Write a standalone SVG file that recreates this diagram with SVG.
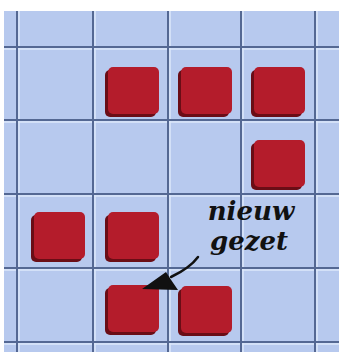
<svg xmlns="http://www.w3.org/2000/svg" width="342" height="352" viewBox="0 0 342 352">
<defs>
<style>
.bg{fill:#b7c9ee}
.gd{stroke:#546893;stroke-width:2;fill:none}
.gl{stroke:#dde7fa;stroke-width:1.5;fill:none}
.tk-base{fill:#6a0d16}
.tk-face{fill:#b41c2b}
.lbl{font-family:"DejaVu Serif","Liberation Serif",serif;font-style:italic;font-weight:bold;font-size:26px;fill:#111}
</style>
<g id="token-shape">
<rect class="tk-base" x="0" y="3" width="51" height="47" rx="5"/>
<rect class="tk-face" x="3" y="0" width="51" height="47" rx="5"/>
</g>
</defs>
<rect x="0" y="0" width="342" height="352" fill="#ffffff"/>
<rect class="bg" x="4" y="11" width="335" height="341"/>
<g id="grid">
<path class="gl" d="M19,11V352M95,11V352M170,11V352M243,11V352M317,11V352"/>
<path class="gl" d="M4,49H339M4,122H339M4,196H339M4,270H339M4,344H339"/>
<path class="gd" d="M17,11V352M93,11V352M168,11V352M241,11V352M315,11V352"/>
<path class="gd" d="M4,47H339M4,120H339M4,194H339M4,268H339M4,342H339"/>
</g>
<g id="token-r1c2"><use href="#token-shape" x="105" y="67"/></g>
<g id="token-r1c3"><use href="#token-shape" x="178" y="67"/></g>
<g id="token-r1c4"><use href="#token-shape" x="251" y="67"/></g>
<g id="token-r2c4"><use href="#token-shape" x="251" y="140"/></g>
<g id="token-r3c1"><use href="#token-shape" x="31" y="212"/></g>
<g id="token-r3c2"><use href="#token-shape" x="105" y="212"/></g>
<g id="token-r4c2"><use href="#token-shape" x="105" y="285"/></g>
<g id="token-r4c3"><use href="#token-shape" x="178" y="286"/></g>
<g id="label">
<text class="lbl" x="251" y="220" text-anchor="middle">nieuw</text>
<text class="lbl" x="249" y="250" text-anchor="middle">gezet</text>
</g>
<g id="connectors">
<path d="M198,257 Q190,268 171,277" stroke="#111" stroke-width="2.5" fill="none" stroke-linecap="round"/>
<path d="M142,289 L166,272 Q171,280 178,290 Z" fill="#111"/>
</g>
</svg>
